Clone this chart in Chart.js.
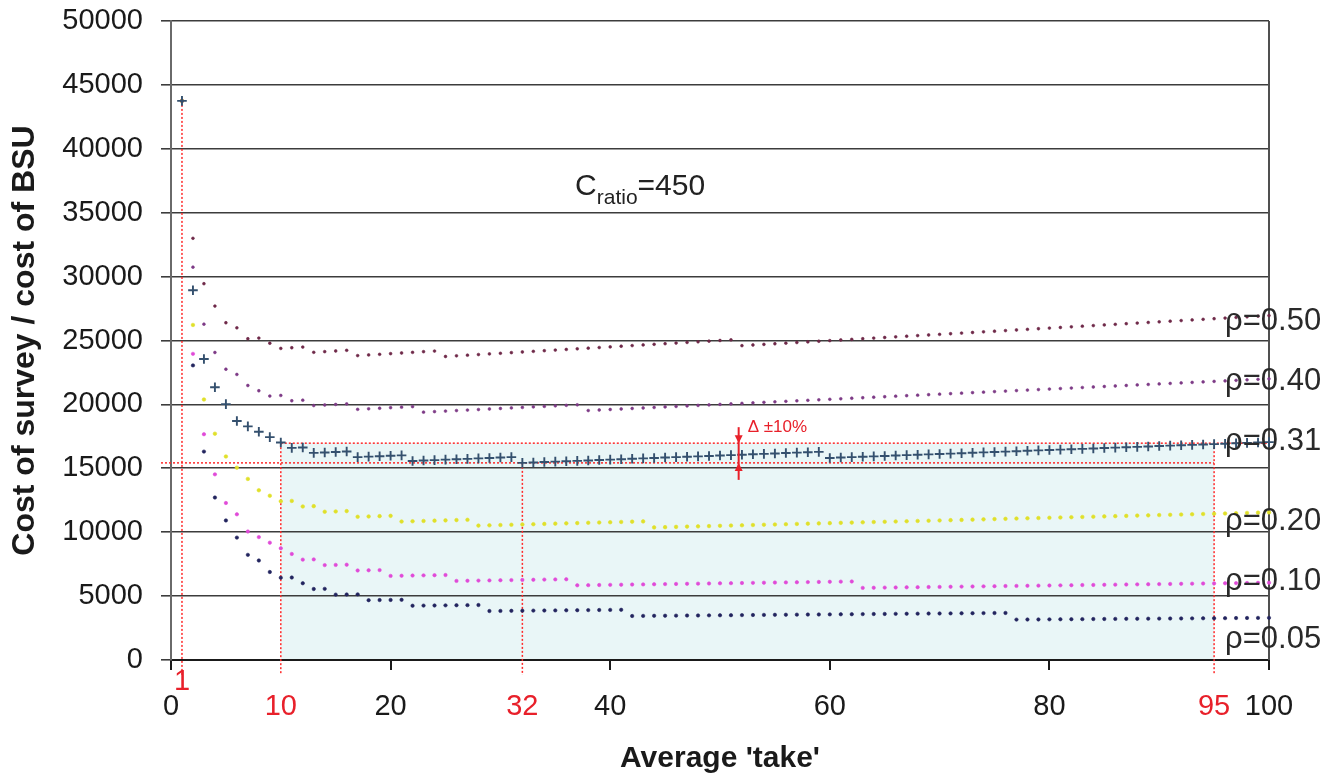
<!DOCTYPE html>
<html><head><meta charset="utf-8">
<script src="https://cdn.jsdelivr.net/npm/chart.js@4.4.1/dist/chart.umd.min.js"></script>
<style>html,body{margin:0;padding:0;background:#fff;overflow:hidden}canvas{display:block}</style>
</head><body><canvas id="c" width="1337" height="778"></canvas>
<script>
const FONT = "'Liberation Sans', Arial, Helvetica, sans-serif";

// ---- data ----
const takes = [1,2,3,4,5,6,7,8,9,10,11,12,13,14,15,16,17,18,19,20,21,22,23,24,25,26,27,28,29,30,31,32,33,34,35,36,37,38,39,40,41,42,43,44,45,46,47,48,49,50,51,52,53,54,55,56,57,58,59,60,61,62,63,64,65,66,67,68,69,70,71,72,73,74,75,76,77,78,79,80,81,82,83,84,85,86,87,88,89,90,91,92,93,94,95,96,97,98,99,100];

const rho050 = [43747,32996,29445,27694,26390,25992,25135,25190,24786,24380,
 24433,24486,24076,24128,24180,24232,23817,23868,23919,23970,
 24021,24072,24123,24174,23750,23800,23850,23900,23950,24000,
 24050,24100,24150,24200,24250,24300,24350,24400,24450,24500,
 24550,24600,24650,24700,24750,24800,24850,24900,24950,25000,
 25050,24598,24647,24696,24745,24794,24843,24892,24941,24990,
 25039,25088,25137,25186,25235,25284,25333,25382,25431,25480,
 25529,25578,25627,25676,25725,25774,25823,25872,25921,25970,
 26019,26068,26117,26166,26215,26264,26313,26362,26411,26460,
 26509,26558,26607,26656,26705,26754,26803,26852,26901,26950];

const rho040 = [43747,30736,26274,24062,22750,22344,21479,21068,20655,20700,
 20284,20328,19909,19952,19995,20038,19614,19656,19698,19740,
 19782,19824,19393,19434,19475,19516,19557,19598,19639,19680,
 19721,19762,19803,19844,19885,19926,19967,19520,19560,19600,
 19640,19680,19720,19760,19800,19840,19880,19920,19960,20000,
 20040,20080,20120,20160,20200,20240,20280,20320,20360,20400,
 20440,20480,20520,20560,20600,20640,20680,20720,20760,20800,
 20840,20880,20920,20960,21000,21040,21080,21120,21160,21200,
 21240,21280,21320,21360,21400,21440,21480,21520,21560,21600,
 21640,21680,21720,21760,21800,21840,21880,21920,21960,22000];

const rho031 = [43747,28928,23556,21338,20020,18696,18280,17862,17442,17020,
 16596,16632,16205,16240,16275,16310,15878,15912,15946,15980,
 16014,15576,15609,15642,15675,15708,15741,15774,15807,15840,
 15873,15424,15456,15488,15520,15552,15584,15616,15648,15680,
 15712,15744,15776,15808,15840,15872,15904,15936,15968,16000,
 16032,16064,16096,16128,16160,16192,16224,16256,16288,15810,
 15841,15872,15903,15934,15965,15996,16027,16058,16089,16120,
 16151,16182,16213,16244,16275,16306,16337,16368,16399,16430,
 16461,16492,16523,16554,16585,16616,16647,16678,16709,16740,
 16771,16802,16833,16864,16895,16926,16957,16988,17019,17050];

const rho020 = [43747,26216,20385,17706,15925,15048,14167,13282,12852,12420,
 12447,12012,12038,11600,11625,11650,11208,11232,11256,11280,
 10833,10856,10879,10902,10925,10948,10971,10516,10538,10560,
 10582,10604,10626,10648,10670,10692,10714,10736,10758,10780,
 10802,10824,10846,10374,10395,10416,10437,10458,10479,10500,
 10521,10542,10563,10584,10605,10626,10647,10668,10689,10710,
 10731,10752,10773,10794,10815,10836,10857,10878,10899,10920,
 10941,10962,10983,11004,11025,11046,11067,11088,11109,11130,
 11151,11172,11193,11214,11235,11256,11277,11298,11319,11340,
 11361,11382,11403,11424,11445,11466,11487,11508,11529,11550];

const rho010 = [43747,23956,17667,14528,12285,11400,10054,9618,9180,8740,
 8298,7854,7871,7424,7440,7456,7005,7020,7035,6580,
 6594,6608,6622,6636,6650,6188,6201,6214,6227,6240,
 6253,6266,6279,6292,6305,6318,5844,5856,5868,5880,
 5892,5904,5916,5928,5940,5952,5964,5976,5988,6000,
 6012,6024,6036,6048,6060,6072,6084,6096,6108,6120,
 6132,6144,5643,5654,5665,5676,5687,5698,5709,5720,
 5731,5742,5753,5764,5775,5786,5797,5808,5819,5830,
 5841,5852,5863,5874,5885,5896,5907,5918,5929,5940,
 5951,5962,5973,5984,5995,6006,6017,6028,6039,6050];

const rho005 = [43747,23052,16308,12712,10920,9576,8226,7786,6885,6440,
 6454,6006,5556,5568,5115,5126,5137,4680,4690,4700,
 4710,4248,4257,4266,4275,4284,4293,4302,3832,3840,
 3848,3856,3864,3872,3880,3888,3896,3904,3912,3920,
 3928,3444,3451,3458,3465,3472,3479,3486,3493,3500,
 3507,3514,3521,3528,3535,3542,3549,3556,3563,3570,
 3577,3584,3591,3598,3605,3612,3619,3626,3633,3640,
 3647,3654,3661,3668,3675,3682,3162,3168,3174,3180,
 3186,3192,3198,3204,3210,3216,3222,3228,3234,3240,
 3246,3252,3258,3264,3270,3276,3282,3288,3294,3300];

const seriesLabels = ['ρ=0.50','ρ=0.40','ρ=0.31','ρ=0.20','ρ=0.10','ρ=0.05'];
const redTickValues = [1, 10, 32, 95];
const minTake = 32;          // take at minimum cost (ρ=0.31)
const minCost = 15424;       // minimum cost (ρ=0.31)
const bandHigh = 16966;      // minimum cost + 10%
const bandTakes = [10, 95];  // takes within +10%
const yMax = 50000, yStep = 5000, xMax = 100, xStep = 20;
const ratioLabel = {main: 'C', sub: 'ratio', rest: '=450'};
const deltaLabel = 'Δ ±10%';

// ---- annotation placement (pixel/scale helpers, not data) ----
const labelAnchors = [25822, 21127, 16432, 10172, 5477, 939]; // baseline values for right labels
const labelX = 96.0;
const ratioPos = {x: 36.8, y: 36385};
const arrowX = 51.7;

const pts = vals => takes.map((t, i) => ({x: t, y: vals[i]}));

const annot = {
  id: 'annot',
  beforeDraw(chart) {
    const {ctx, chartArea: a, scales: {x, y}} = chart;
    ctx.save();
    ctx.fillStyle = '#ffffff';
    ctx.fillRect(0, 0, chart.width, chart.height);
    const x0 = x.getPixelForValue(bandTakes[0]), x1 = x.getPixelForValue(bandTakes[1]);
    const yt = y.getPixelForValue(bandHigh), yb = y.getPixelForValue(0);
    ctx.fillStyle = '#e9f6f7';
    ctx.fillRect(x0, yt, x1 - x0, yb - yt);
    ctx.restore();
  },
  beforeDatasetsDraw(chart) {
    const {ctx, chartArea: a, scales: {x, y}} = chart;
    ctx.save();
    ctx.strokeStyle = '#505050';
    ctx.lineWidth = 2;
    ctx.beginPath();
    ctx.moveTo(a.right, a.top); ctx.lineTo(a.right, a.bottom);
    ctx.stroke();
    ctx.strokeStyle = '#ff2a2a';
    ctx.lineWidth = 1.5;
    ctx.setLineDash([2, 2]);
    const line = (x1, y1, x2, y2) => { ctx.beginPath(); ctx.moveTo(x1, y1); ctx.lineTo(x2, y2); ctx.stroke(); };
    const y0 = y.getPixelForValue(0) + 15;
    line(x.getPixelForValue(1), y.getPixelForValue(rho031[0]), x.getPixelForValue(1), y0);
    line(x.getPixelForValue(bandTakes[0]), y.getPixelForValue(bandHigh), x.getPixelForValue(bandTakes[0]), y0);
    line(x.getPixelForValue(minTake), y.getPixelForValue(minCost), x.getPixelForValue(minTake), y0);
    line(x.getPixelForValue(bandTakes[1]), y.getPixelForValue(bandHigh), x.getPixelForValue(bandTakes[1]), y0);
    line(x.getPixelForValue(bandTakes[0]), y.getPixelForValue(bandHigh), a.right, y.getPixelForValue(bandHigh));
    line(a.left - 10, y.getPixelForValue(minCost), x.getPixelForValue(bandTakes[1]), y.getPixelForValue(minCost));
    ctx.restore();
  },
  afterDatasetsDraw(chart) {
    const {ctx, chartArea: a, scales: {x, y}} = chart;
    ctx.save();
    ctx.fillStyle = '#2a2a2a';
    ctx.font = '31px ' + FONT;
    ctx.textAlign = 'left';
    ctx.textBaseline = 'alphabetic';
    seriesLabels.forEach((s, i) => ctx.fillText(s, x.getPixelForValue(labelX), y.getPixelForValue(labelAnchors[i])));
    let px = x.getPixelForValue(ratioPos.x), py = y.getPixelForValue(ratioPos.y);
    ctx.fillStyle = '#222';
    ctx.font = '30px ' + FONT;
    ctx.fillText(ratioLabel.main, px, py);
    px += ctx.measureText(ratioLabel.main).width;
    ctx.font = '21px ' + FONT;
    ctx.fillText(ratioLabel.sub, px, py + 9);
    px += ctx.measureText(ratioLabel.sub).width;
    ctx.font = '30px ' + FONT;
    ctx.fillText(ratioLabel.rest, px, py);
    ctx.fillStyle = '#e8202a';
    ctx.font = '29px ' + FONT;
    ctx.textAlign = 'center';
    ctx.textBaseline = 'middle';
    redTickValues.forEach(v => {
      const yy = v === 1 ? a.bottom + 22 : a.bottom + 47;
      ctx.fillText(String(v), x.getPixelForValue(v), yy);
    });
    const ax = x.getPixelForValue(arrowX);
    const yu = y.getPixelForValue(bandHigh), yl = y.getPixelForValue(minCost);
    ctx.strokeStyle = '#e8202a';
    ctx.fillStyle = '#e8202a';
    ctx.lineWidth = 2;
    ctx.beginPath(); ctx.moveTo(ax, yu - 16); ctx.lineTo(ax, yl + 17); ctx.stroke();
    ctx.beginPath(); ctx.moveTo(ax - 4, yu - 8); ctx.lineTo(ax + 4, yu - 8); ctx.lineTo(ax, yu); ctx.closePath(); ctx.fill();
    ctx.beginPath(); ctx.moveTo(ax - 4, yl + 8); ctx.lineTo(ax + 4, yl + 8); ctx.lineTo(ax, yl); ctx.closePath(); ctx.fill();
    ctx.font = '17px ' + FONT;
    ctx.textAlign = 'left';
    ctx.textBaseline = 'alphabetic';
    ctx.fillText(deltaLabel, ax + 9, yu - 11);
    ctx.restore();
  }
};

const dotSet = (label, vals, color, r) => ({
  label, data: pts(vals), showLine: false, clip: false,
  pointStyle: 'circle', pointRadius: r, pointHoverRadius: r,
  borderWidth: 0.6, borderColor: color, backgroundColor: color
});

new Chart(document.getElementById('c'), {
  type: 'scatter',
  data: {
    datasets: [
      {label: seriesLabels[2], data: pts(rho031), showLine: false, clip: false,
       pointStyle: 'cross', pointRadius: 4.8, pointHoverRadius: 4.8,
       borderWidth: 1.9, borderColor: '#34506e', backgroundColor: '#34506e'},
      dotSet(seriesLabels[0], rho050, '#6e2848', 1.4),
      dotSet(seriesLabels[1], rho040, '#7d3a86', 1.4),
      dotSet(seriesLabels[3], rho020, '#e0e02a', 1.8),
      dotSet(seriesLabels[4], rho010, '#e04ad8', 1.7),
      dotSet(seriesLabels[5], rho005, '#22245e', 1.7)
    ]
  },
  options: {
    responsive: false,
    devicePixelRatio: 1,
    animation: false,
    events: [],
    layout: {padding: {top: 21, right: 68, bottom: 0, left: 0}},
    plugins: {legend: {display: false}, tooltip: {enabled: false}},
    scales: {
      x: {
        type: 'linear', min: 0, max: xMax,
        afterFit: s => { s.height = 118; s.paddingLeft = 0; s.paddingRight = 0; },
        border: {display: true, color: '#1a1a1a', width: 2},
        grid: {drawOnChartArea: false, drawTicks: true, tickLength: 10, color: '#1a1a1a', lineWidth: 2},
        ticks: {stepSize: xStep, padding: 20, color: '#1a1a1a', font: {family: FONT, size: 29}, callback: v => String(v), maxRotation: 0},
        title: {display: true, text: "Average 'take'", color: '#1a1a1a', font: {family: FONT, size: 30, weight: 'bold'}, padding: {top: 0, bottom: 1}}
      },
      y: {
        type: 'linear', min: 0, max: yMax,
        afterFit: s => { s.width = 171; s.paddingTop = 0; s.paddingBottom = 0; },
        border: {display: true, color: '#6a6a6a', width: 2},
        grid: {drawOnChartArea: true, drawTicks: true, tickLength: 10, color: '#3c3c3c', lineWidth: 1.6},
        ticks: {stepSize: yStep, padding: 18, color: '#1a1a1a', font: {family: FONT, size: 29}, callback: v => String(v)},
        title: {display: true, text: 'Cost of survey / cost of BSU', color: '#1a1a1a', font: {family: FONT, size: 32, weight: 'bold'}, padding: {top: 6, bottom: 0}}
      }
    }
  },
  plugins: [annot]
});
</script>
</body></html>
